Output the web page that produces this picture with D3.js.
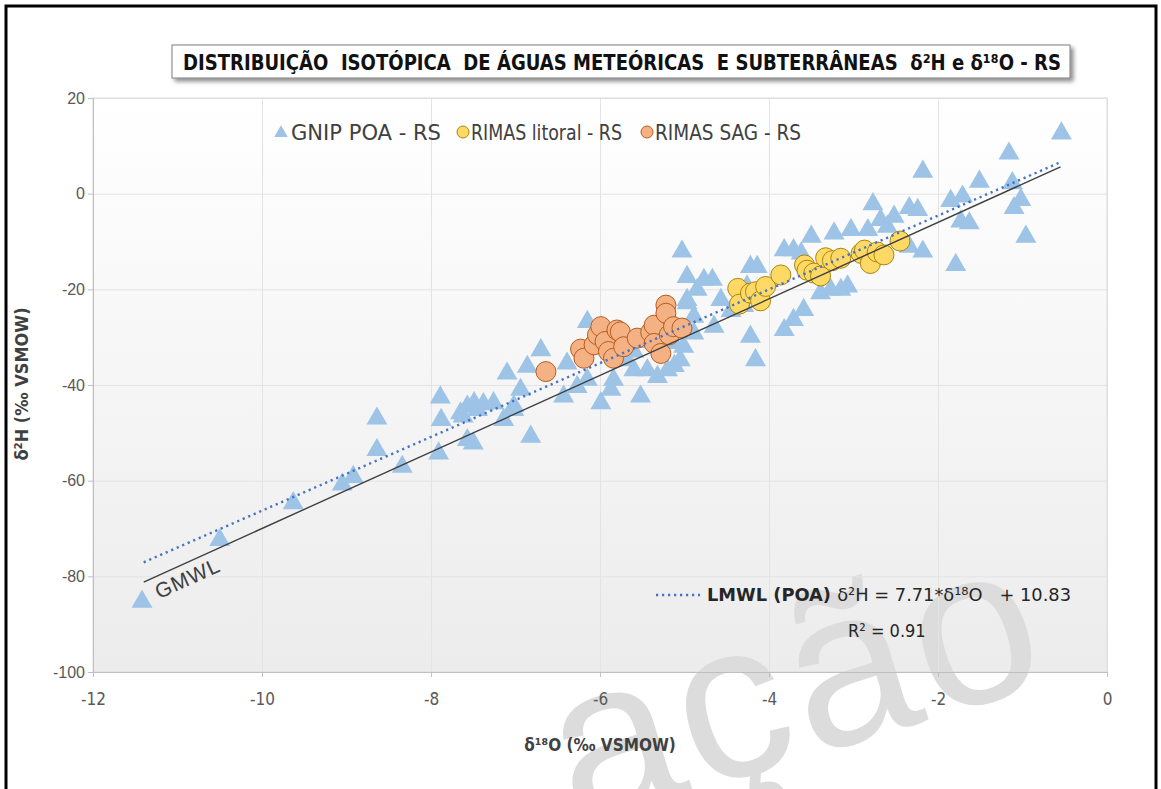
<!DOCTYPE html>
<html>
<head>
<meta charset="utf-8">
<script src="https://cdn.jsdelivr.net/npm/d3@7"></script>
<style>
  body { margin: 0; background: #fff; }
  svg text { font-family: "Liberation Sans Narrow", "DejaVu Sans Condensed", "Liberation Sans", sans-serif; white-space: pre; }
</style>
</head>
<body>
<div id="chart"></div>
<script>
// Data (δ18O, δ2H)
var gnipPOA = [
  [-11.42,-85.3],[-10.50,-72.4],[-9.63,-64.7],[-9.05,-60.8],[-8.92,-59.2],[-8.64,-47.0],[-8.64,-53.6],
  [-8.34,-57.1],[-7.89,-42.6],[-7.88,-47.3],[-7.91,-54.3],[-7.65,-45.9],[-7.57,-44.5],[-7.49,-43.8],
  [-7.38,-44.0],[-7.26,-43.8],[-7.02,-44.4],[-7.57,-51.5],[-7.50,-52.2],[-7.62,-46.6],[-7.45,-45.2],
  [-7.14,-47.3],[-7.10,-37.6],[-6.86,-36.2],[-6.94,-41.0],[-6.82,-50.8],[-6.70,-32.7],[-7.02,-45.2],
  [-6.39,-35.5],[-6.15,-26.8],[-6.43,-42.4],[-6.27,-40.4],[-6.15,-38.9],[-5.99,-43.8],[-5.87,-41.0],
  [-5.52,-42.4],[-5.84,-38.9],[-5.60,-36.9],[-5.44,-36.9],[-5.32,-38.3],[-5.20,-36.9],[-5.12,-36.0],
  [-5.05,-34.8],[-5.01,-32.0],[-5.68,-34.8],[-5.60,-33.0],[-5.45,-31.0],[-5.30,-30.0],[-4.97,-22.9],
  [-4.89,-25.7],[-4.97,-17.4],[-5.03,-12.1],[-4.77,-18.0],[-4.67,-18.0],[-4.85,-20.1],[-4.97,-22.2],
  [-4.65,-27.8],[-4.89,-29.2],[-5.13,-31.2],[-4.57,-22.2],[-4.45,-24.5],[-4.30,-23.5],[-4.22,-15.3],
  [-4.14,-15.3],[-4.26,-19.4],[-4.22,-29.9],[-4.16,-34.8],[-3.82,-11.8],[-3.71,-11.8],[-3.62,-12.5],
  [-3.82,-28.5],[-3.71,-26.4],[-3.59,-24.3],[-3.39,-20.8],[-3.27,-20.1],[-3.15,-20.1],[-3.07,-19.4],
  [-3.23,-8.3],[-3.03,-7.6],[-2.83,-7.6],[-2.77,-2.2],[-2.68,-5.5],[-2.60,-6.9],[-3.50,-9.0],
  [-0.54,12.6],[-1.16,8.4],[-2.18,4.6],[-1.51,2.5],[-1.12,2.2],[-1.85,-1.5],[-1.71,-0.6],[-1.02,-1.3],
  [-1.10,-3.0],[-2.34,-3.0],[-2.24,-3.4],[-2.52,-4.8],[-1.73,-5.8],[-1.63,-6.2],[-0.96,-9.0],
  [-2.18,-12.1],[-2.34,-11.1],[-1.79,-14.9]
];
var rimasLitoral = [
  [-4.37,-19.8],[-4.35,-23.1],[-4.22,-20.8],[-4.16,-20.5],[-4.10,-22.4],[-4.04,-19.4],[-3.86,-17.0],
  [-3.58,-14.9],[-3.55,-16.0],[-3.47,-16.6],[-3.39,-17.2],[-3.33,-13.4],[-3.25,-14.0],[-3.15,-13.5],
  [-2.91,-12.5],[-2.87,-11.8],[-2.80,-14.6],[-2.72,-12.2],[-2.64,-12.8],[-2.45,-9.9]
];
var rimasSAG = [
  [-6.64,-37.2],[-6.23,-32.5],[-6.19,-34.4],[-6.07,-31.6],[-6.03,-29.5],[-5.99,-27.8],[-5.94,-30.9],
  [-5.90,-33.0],[-5.84,-34.4],[-5.80,-28.5],[-5.76,-28.9],[-5.72,-32.0],[-5.56,-30.2],[-5.40,-29.0],
  [-5.36,-27.5],[-5.36,-31.3],[-5.28,-33.4],[-5.22,-23.3],[-5.22,-25.0],[-5.18,-29.5],[-5.13,-27.8],
  [-5.03,-28.1]
];
var xTicks = [-12, -10, -8, -6, -4, -2, 0];
var yTicks = [20, 0, -20, -40, -60, -80, -100];
var seriesNames = ["GNIP POA - RS", "RIMAS litoral - RS", "RIMAS SAG - RS"];
// meteoric water lines: slope, intercept, and the δ18O range they are drawn over
var gmwl = {slope: 8, intercept: 10};
var lmwl = {slope: 7.71, intercept: 10.83};
var lineRange = [-11.4, -0.55];

var W = 1161, H = 789;
var margin = {top: 98, left: 93};
var width = 1014, height = 574;

var svg = d3.select("#chart").append("svg").attr("width", W).attr("height", H);
var defs = svg.append("defs");
var grad = defs.append("linearGradient").attr("id", "bg").attr("x1", 0).attr("y1", 0).attr("x2", 0).attr("y2", 1);
grad.append("stop").attr("offset", "0%").attr("stop-color", "#ffffff");
grad.append("stop").attr("offset", "100%").attr("stop-color", "#ececec");
var shadow = defs.append("filter").attr("id", "shadow").attr("x", "-5%").attr("y", "-40%").attr("width", "110%").attr("height", "200%");
shadow.append("feDropShadow").attr("dx", 3).attr("dy", 3).attr("stdDeviation", 2).attr("flood-color", "#000").attr("flood-opacity", 0.45);

// outer frame
svg.append("rect").attr("x", 6).attr("y", 6).attr("width", 1150).attr("height", 800)
  .attr("fill", "none").attr("stroke", "#000").attr("stroke-width", 3);

var g = svg.append("g").attr("transform", "translate(" + margin.left + "," + margin.top + ")");

var xScale = d3.scaleLinear().domain([-12, 0]).range([0, width]);
var yScale = d3.scaleLinear().domain([-100, 20]).range([height, 0]);

// plot background
g.append("rect").attr("width", width).attr("height", height).attr("fill", "url(#bg)");

// watermark: above the background, below everything else
g.append("text")
  .attr("transform", "translate(" + (575 - margin.left) + "," + (828 - margin.top) + ") rotate(-17)")
  .attr("font-size", 222).attr("letter-spacing", 6)
  .style("font-family", "'Liberation Sans', Arial, sans-serif")
  .attr("fill", "#dcdcdc")
  .text("ação");

// gridlines
g.append("g").call(d3.axisBottom(xScale).tickValues(xTicks).tickSize(height).tickFormat(""))
  .call(function(s) { s.select(".domain").remove(); s.selectAll("line").attr("stroke", "#e3e3e3"); });
g.append("g").attr("transform", "translate(" + width + ",0)")
  .call(d3.axisLeft(yScale).tickValues(yTicks).tickSize(width).tickFormat(""))
  .call(function(s) { s.select(".domain").remove(); s.selectAll("line").attr("stroke", "#e3e3e3"); });
g.append("rect").attr("width", width).attr("height", height).attr("fill", "none").attr("stroke", "#dcdcdc");

// axes
var xAxis = g.append("g").attr("transform", "translate(0," + height + ")")
  .call(d3.axisBottom(xScale).tickValues(xTicks).tickSize(5).tickPadding(16).tickFormat(function(d) { return String(d); }));
var yAxis = g.append("g")
  .call(d3.axisLeft(yScale).tickValues(yTicks).tickSize(5).tickPadding(3).tickFormat(function(d) { return String(d); }));
[xAxis, yAxis].forEach(function(a) {
  a.select(".domain").attr("stroke", "#bfbfbf");
  a.selectAll(".tick line").attr("stroke", "#bfbfbf");
  a.selectAll(".tick text").attr("fill", "#595959").attr("font-size", 17)
    .style("font-family", "'Liberation Sans Narrow', 'DejaVu Sans Condensed', sans-serif");
});
yAxis.selectAll(".tick text").attr("font-size", 16).style("font-family", "'Liberation Sans', Arial, sans-serif");

// series
var tri = d3.symbol().type(d3.symbolTriangle).size(190);
g.selectAll(".gnip").data(gnipPOA).enter().append("path").attr("class", "gnip")
  .attr("d", tri)
  .attr("transform", function(d) { return "translate(" + xScale(d[0]) + "," + yScale(d[1]) + ")"; })
  .attr("fill", "#9dc3e6");

g.selectAll(".litoral").data(rimasLitoral).enter().append("circle").attr("class", "litoral")
  .attr("cx", function(d) { return xScale(d[0]); })
  .attr("cy", function(d) { return yScale(d[1]); })
  .attr("r", 10).attr("fill", "#ffd966").attr("stroke", "#a8860b").attr("stroke-width", 1);

g.selectAll(".sag").data(rimasSAG).enter().append("circle").attr("class", "sag")
  .attr("cx", function(d) { return xScale(d[0]); })
  .attr("cy", function(d) { return yScale(d[1]); })
  .attr("r", 10).attr("fill", "#f4b183").attr("stroke", "#b85c1e").attr("stroke-width", 1);

// water lines
function mwl(p) {
  return d3.line().x(function(d) { return xScale(d); }).y(function(d) { return yScale(p.slope * d + p.intercept); })(lineRange);
}
g.append("path").attr("d", mwl(gmwl)).attr("fill", "none").attr("stroke", "#404040").attr("stroke-width", 1.4);
g.append("path").attr("d", mwl(lmwl)).attr("fill", "none").attr("stroke", "#4472c4")
  .attr("stroke-width", 2.4).attr("stroke-dasharray", "2.2,3.8");

// GMWL label, rotated along the line
var ang = Math.atan2(yScale(gmwl.slope * -1 + gmwl.intercept) - yScale(gmwl.slope * -2 + gmwl.intercept),
                     xScale(-1) - xScale(-2)) * 180 / Math.PI;
g.append("text")
  .attr("transform", "translate(" + xScale(-11.22) + "," + (yScale(gmwl.slope * -11.22 + gmwl.intercept) + 24) + ") rotate(" + ang + ")")
  .attr("font-size", 21).attr("fill", "#404040").attr("letter-spacing", 1)
  .style("font-family", "'Liberation Sans', Arial, sans-serif")
  .text("GMWL");

// title box
svg.append("rect").attr("x", 172).attr("y", 45).attr("width", 898).attr("height", 33)
  .attr("fill", "#fff").attr("stroke", "#7f7f7f").attr("stroke-width", 1).attr("filter", "url(#shadow)");
svg.append("text").attr("x", 183).attr("y", 70).attr("font-size", 22).attr("font-weight", "bold")
  .attr("fill", "#111").attr("textLength", 878).attr("lengthAdjust", "spacingAndGlyphs")
  .text("DISTRIBUIÇÃO  ISOTÓPICA  DE ÁGUAS METEÓRICAS  E SUBTERRÂNEAS  δ²H e δ¹⁸O - RS");

// legend
var leg = svg.append("g").attr("font-size", 21).attr("fill", "#404040");
leg.append("path").attr("d", d3.symbol().type(d3.symbolTriangle).size(80)).attr("transform", "translate(281,133)").attr("fill", "#9dc3e6");
leg.append("text").attr("x", 291).attr("y", 140).attr("textLength", 150).attr("lengthAdjust", "spacingAndGlyphs").text(seriesNames[0]);
leg.append("circle").attr("cx", 463).attr("cy", 132).attr("r", 6).attr("fill", "#ffd966").attr("stroke", "#a8860b");
leg.append("text").attr("x", 471).attr("y", 140).attr("textLength", 151).attr("lengthAdjust", "spacingAndGlyphs").text(seriesNames[1]);
leg.append("circle").attr("cx", 647).attr("cy", 132).attr("r", 6).attr("fill", "#f4b183").attr("stroke", "#b85c1e");
leg.append("text").attr("x", 655).attr("y", 140).attr("textLength", 146).attr("lengthAdjust", "spacingAndGlyphs").text(seriesNames[2]);

// LMWL equation
svg.append("line").attr("x1", 656).attr("x2", 700).attr("y1", 595).attr("y2", 595)
  .attr("stroke", "#4472c4").attr("stroke-width", 2.4).attr("stroke-dasharray", "2.2,3.8");
var eq = svg.append("text").attr("x", 707).attr("y", 601).attr("font-size", 18).attr("fill", "#262626")
  .attr("textLength", 364).attr("lengthAdjust", "spacingAndGlyphs");
eq.append("tspan").attr("font-weight", "bold").text("LMWL (POA) ");
eq.append("tspan").text("δ²H = " + lmwl.slope.toFixed(2) + "*δ¹⁸O   + " + lmwl.intercept.toFixed(2));
svg.append("text").attr("x", 848).attr("y", 637).attr("font-size", 18).attr("fill", "#262626").text("R² = 0.91");

// axis titles
svg.append("text").attr("x", 600).attr("y", 751).attr("text-anchor", "middle")
  .attr("font-size", 17).attr("font-weight", "bold").attr("fill", "#404040")
  .text("δ¹⁸O (‰ VSMOW)");
svg.append("text").attr("transform", "translate(28,384) rotate(-90)").attr("text-anchor", "middle")
  .attr("font-size", 18).attr("font-weight", "bold").attr("fill", "#404040")
  .text("δ²H (‰ VSMOW)");
</script>
</body>
</html>
